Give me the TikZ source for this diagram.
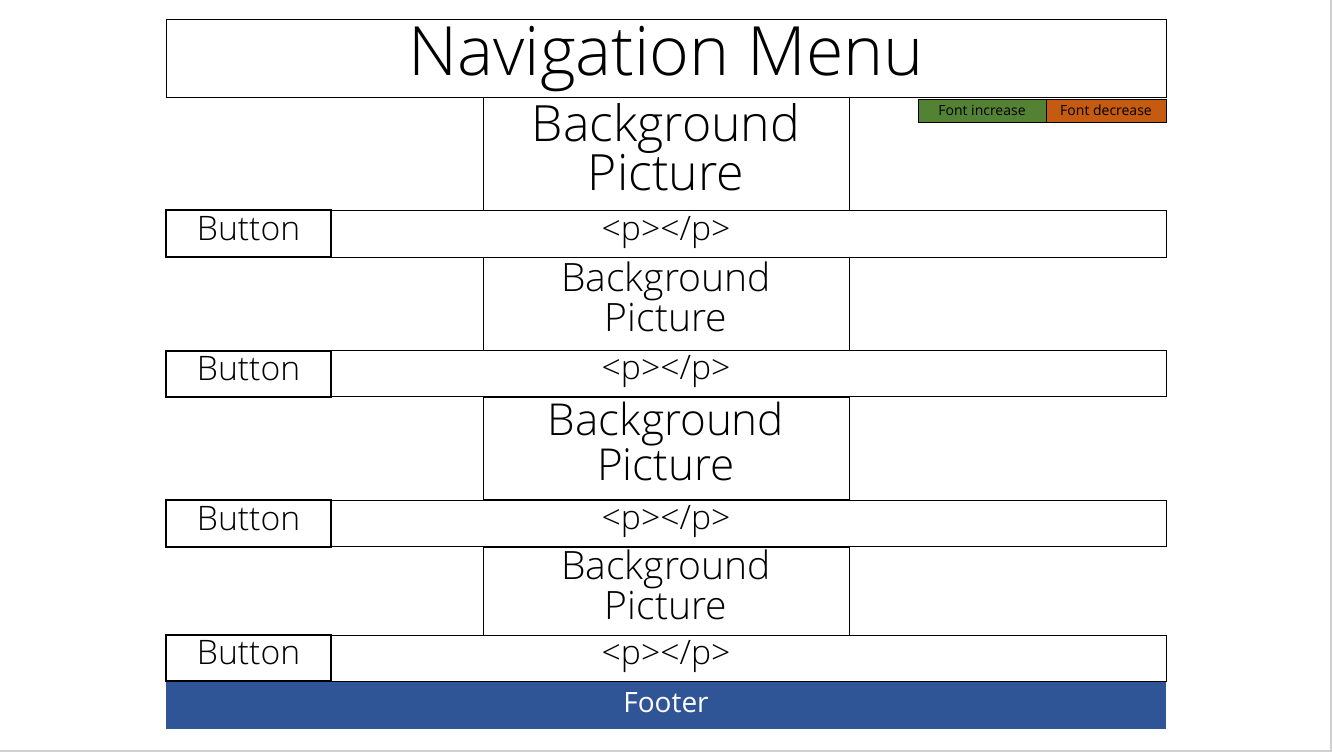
\documentclass[tikz,border=0pt]{standalone}
\usepackage{fontspec}
\setmainfont{Open Sans}[UprightFont=* Light]
\newfontfamily\regfont{Open Sans}
\definecolor{incgreen}{HTML}{548235}
\definecolor{decorange}{HTML}{C55A11}
\definecolor{footblue}{HTML}{2F5597}
\definecolor{framegray}{HTML}{D0D0D0}
\begin{document}
\begin{tikzpicture}[x=0.75pt,y=-0.75pt,
  box/.style={draw=black,line width=0.75pt,inner sep=0pt,fill=white},
  btnbox/.style={draw=black,line width=1.1pt,inner sep=0pt,fill=white},
  smallbox/.style={draw=black,line width=0.75pt,inner sep=0pt,minimum height=17.25pt},
  lbl/.style={anchor=base,inner sep=0pt,align=center},
  smalltxt/.style={lbl,font=\regfont\fontsize{10.5}{12}\selectfont},
  rowtxt/.style={lbl,font=\fontsize{25.3}{28}\selectfont},
  bgsmall/.style={lbl,font=\fontsize{29.3}{27.5}\selectfont}
]
\useasboundingbox (0,0) rectangle (1333,752);
\draw[framegray,line width=1pt] (1331,0) -- (1331,751) -- (0,751);

% navigation
\node[box,minimum width=750pt,minimum height=58.5pt] (nav) at (666,59) {};
\node[lbl,font=\fontsize{51}{56}\selectfont] (navt) at (666,76) {Navigation Menu};
\node[smallbox,fill=incgreen,minimum width=96pt] (finc) at (982,111.5) {};
\node[smallbox,fill=decorange,minimum width=90pt] (fdec) at (1106,111.5) {};
\node[smalltxt] (finct) at (982,115.5) {Font increase};
\node[smalltxt] (fdect) at (1106,115.5) {Font decrease};

% section 1
\node[box,minimum width=274.5pt,minimum height=84.75pt] (bg1) at (666,154.5) {};
\node[lbl,font=\fontsize{37.5}{35.25}\selectfont] (bg1t) at (666,191) {Background\\Picture};
\node[box,minimum width=750pt,minimum height=34.5pt] (row1) at (666,234) {};
\node[btnbox,minimum width=123.75pt,minimum height=35.25pt] (btn1) at (248.5,233.5) {};
\node[rowtxt] (btn1t) at (248.5,240) {Button};
\node[rowtxt] (p1) at (666,240) {<p></p>};

% section 2
\node[box,minimum width=274.5pt,minimum height=70.5pt] (bg2) at (666,304) {};
\node[bgsmall] (bg2t) at (666,331) {Background\\Picture};
\node[box,minimum width=750pt,minimum height=34.5pt] (row2) at (666,373) {};
\node[btnbox,minimum width=123.75pt,minimum height=34.5pt] (btn2) at (248.5,374) {};
\node[rowtxt] (btn2t) at (248.5,380) {Button};
\node[rowtxt] (p2) at (666,379) {<p></p>};

% section 3
\node[box,minimum width=274.5pt,minimum height=76.5pt] (bg3) at (666,448) {};
\node[lbl,font=\fontsize{33}{33.5}\selectfont] (bg3t) at (666,480) {Background\\Picture};
\node[box,minimum width=750pt,minimum height=34.5pt] (row3) at (666,523) {};
\node[btnbox,minimum width=123.75pt,minimum height=35.25pt] (btn3) at (248.5,523.5) {};
\node[rowtxt] (btn3t) at (248.5,530) {Button};
\node[rowtxt] (p3) at (666,529) {<p></p>};

% section 4
\node[box,minimum width=274.5pt,minimum height=66pt] (bg4) at (666,591) {};
\node[bgsmall] (bg4t) at (666,619) {Background\\Picture};
\node[box,minimum width=750pt,minimum height=34.5pt] (row4) at (666,658) {};
\node[btnbox,minimum width=123.75pt,minimum height=34.5pt] (btn4) at (248.5,658) {};
\node[rowtxt] (btn4t) at (248.5,664) {Button};
\node[rowtxt] (p4) at (666,664) {<p></p>};

% footer
\node[inner sep=0pt,fill=footblue,minimum width=750pt,minimum height=35.25pt] (foot) at (666,705.5) {};
\node[lbl,text=white,font=\regfont\fontsize{21}{24}\selectfont] (foott) at (666,712) {Footer};
\end{tikzpicture}
\end{document}
